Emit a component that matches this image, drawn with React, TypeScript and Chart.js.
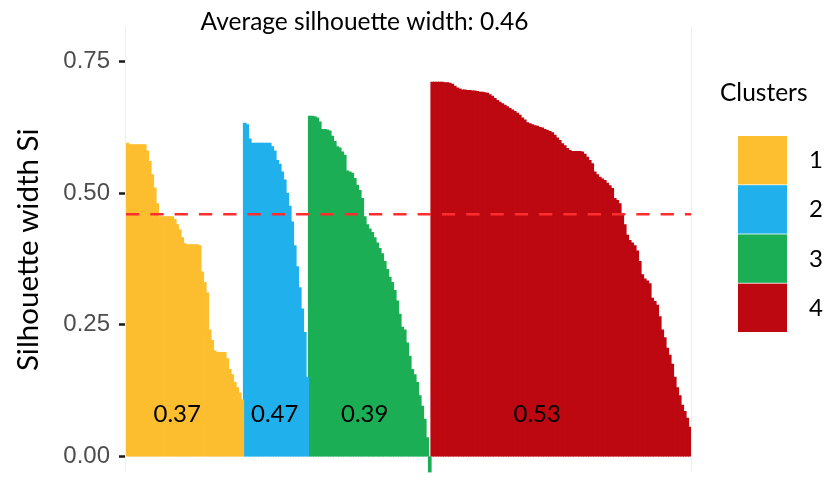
import React, { useEffect, useRef } from "react";
import { Chart, registerables } from "chart.js";

Chart.register(...registerables);

// ---- data ----
const TITLE = "Average silhouette width: 0.46";
const Y_TITLE = "Silhouette width Si";
const LEGEND_TITLE = "Clusters";
const CLUSTERS = ["1", "2", "3", "4"];
const CLUSTER_COLORS = ["#FDBE2F", "#20B1EC", "#1CAE55", "#BD0812"];
const CLUSTER_AVG = ["0.37", "0.47", "0.39", "0.53"];
const AVG_WIDTH = 0.46;
const Y_TICKS = [0, 0.25, 0.5, 0.75];

// silhouette widths, sorted within each cluster
const SIL_1 = [
  0.595, 0.592, 0.592, 0.592, 0.592, 0.592, 0.592, 0.592, 0.58, 0.56,
  0.535, 0.51, 0.48, 0.455, 0.455, 0.455, 0.455, 0.455, 0.455, 0.45,
  0.44, 0.43, 0.415, 0.404, 0.402, 0.402, 0.402, 0.402, 0.402, 0.4,
  0.35, 0.33, 0.31, 0.24, 0.22, 0.2, 0.197, 0.197, 0.197, 0.197,
  0.185, 0.165, 0.155, 0.14, 0.13, 0.12, 0.107,
];
const SIL_2 = [
  0.633, 0.63, 0.603, 0.595, 0.595, 0.595, 0.595, 0.595, 0.595, 0.595,
  0.595, 0.588, 0.58, 0.562, 0.555, 0.54, 0.525, 0.5, 0.475, 0.445,
  0.4, 0.36, 0.32, 0.28, 0.235, 0.15,
];
const SIL_3 = [
  0.646, 0.646, 0.645, 0.643, 0.635, 0.621, 0.621, 0.62, 0.618, 0.608,
  0.598, 0.588, 0.586, 0.578, 0.572, 0.542, 0.54, 0.538, 0.528, 0.515,
  0.505, 0.49, 0.455, 0.44, 0.432, 0.425, 0.415, 0.405, 0.395, 0.385,
  0.37, 0.355, 0.34, 0.33, 0.315, 0.295, 0.27, 0.245, 0.24, 0.215,
  0.19, 0.165, 0.155, 0.14, 0.115, 0.095, 0.07, 0.035, -0.03,
];
const SIL_4 = [
  0.711, 0.711, 0.711, 0.711, 0.711, 0.71, 0.71, 0.709, 0.707, 0.703,
  0.7, 0.698, 0.696, 0.696, 0.695, 0.695, 0.694, 0.694, 0.693, 0.692,
  0.692, 0.691, 0.69, 0.687, 0.684, 0.68, 0.676, 0.673, 0.67, 0.667,
  0.664, 0.661, 0.658, 0.655, 0.652, 0.648, 0.643, 0.639, 0.634, 0.632,
  0.63, 0.628, 0.627, 0.625, 0.624, 0.621, 0.619, 0.617, 0.615, 0.61,
  0.605, 0.6, 0.594, 0.59, 0.585, 0.581, 0.579, 0.579, 0.579, 0.579,
  0.578, 0.574, 0.568, 0.562, 0.556, 0.54, 0.535, 0.53, 0.527, 0.524,
  0.519, 0.514, 0.509, 0.49, 0.486, 0.48, 0.46, 0.44, 0.42, 0.41,
  0.405, 0.4, 0.39, 0.37, 0.345, 0.337, 0.333, 0.328, 0.3, 0.294,
  0.287, 0.265, 0.24, 0.225, 0.205, 0.192, 0.175, 0.15, 0.13, 0.115,
  0.097, 0.085, 0.072, 0.055,
];
const SIL = [SIL_1, SIL_2, SIL_3, SIL_4];

// observation (0-based) under which each cluster's average is written, and its height
const AVG_LABEL_OBS = [20, 59, 95, 164];
const AVG_LABEL_Y = 0.08;

const LATO = "Lato, 'Open Sans', sans-serif";

const decor = {
  id: "silDecor",
  beforeDatasetsDraw(chart: any) {
    const { ctx, chartArea } = chart;
    ctx.save();
    ctx.strokeStyle = "#efefef";
    ctx.lineWidth = 1;
    ctx.beginPath();
    ctx.moveTo(chartArea.left - 0.5, chartArea.top);
    ctx.lineTo(chartArea.left - 0.5, chartArea.bottom);
    ctx.moveTo(chartArea.right + 0.5, chartArea.top);
    ctx.lineTo(chartArea.right + 0.5, chartArea.bottom);
    ctx.stroke();
    ctx.restore();
  },
  afterDatasetsDraw(chart: any) {
    const { ctx, chartArea, scales } = chart;
    const x = scales.x;
    const y = scales.y;
    ctx.save();
    // average line
    const yAvg = y.getPixelForValue(AVG_WIDTH);
    ctx.strokeStyle = "#FF2E2E";
    ctx.lineWidth = 2.5;
    ctx.setLineDash([13.3, 11]);
    ctx.beginPath();
    ctx.moveTo(chartArea.left, yAvg);
    ctx.lineTo(chartArea.right, yAvg);
    ctx.stroke();
    ctx.setLineDash([]);
    // cluster averages
    ctx.fillStyle = "#000";
    ctx.font = `24px ${LATO}`;
    ctx.textAlign = "center";
    ctx.textBaseline = "middle";
    CLUSTER_AVG.forEach((t, k) => {
      ctx.fillText(t, x.getPixelForValue(AVG_LABEL_OBS[k]), y.getPixelForValue(AVG_LABEL_Y));
    });
    ctx.restore();
  },
  afterDraw(chart: any) {
    const { ctx, chartArea } = chart;
    ctx.save();
    ctx.fillStyle = "#000";
    ctx.textBaseline = "middle";
    // title
    ctx.font = `24.5px ${LATO}`;
    ctx.textAlign = "center";
    ctx.fillText(TITLE, 364.5, 22);
    // legend
    const lx = chartArea.right + 29;
    ctx.textAlign = "left";
    ctx.fillText(LEGEND_TITLE, lx, 93);
    chart.data.datasets.forEach((ds: any, k: number) => {
      const top = 136 + k * 49.2;
      ctx.fillStyle = ds.backgroundColor;
      ctx.fillRect(lx + 18, top, 49, 48.4);
      ctx.fillStyle = "#000";
      ctx.font = `24px ${LATO}`;
      ctx.fillText(ds.label, lx + 89, top + 24.5);
    });
    ctx.restore();
  },
};

export default function App() {
  const ref = useRef<HTMLCanvasElement | null>(null);

  useEffect(() => {
    if (!ref.current) return;
    const all: number[] = ([] as number[]).concat(...SIL);
    const labels = all.map((_, i) => String(i + 1));
    let start = 0;
    const datasets = SIL.map((vals, k) => {
      const data = all.map((_, i) =>
        i >= start && i < start + vals.length ? vals[i - start] : null
      );
      start += vals.length;
      return {
        label: CLUSTERS[k],
        data,
        backgroundColor: CLUSTER_COLORS[k],
        borderColor: CLUSTER_COLORS[k],
        borderWidth: 0,
        barPercentage: 1,
        categoryPercentage: 1,
        inflateAmount: 0.6,
        grouped: false,
      };
    });

    const chart = new Chart(ref.current, {
      type: "bar",
      data: { labels, datasets } as any,
      options: {
        animation: false,
        responsive: false,
        layout: { padding: { top: 27, right: 136, bottom: 0, left: 0 } },
        plugins: {
          legend: { display: false },
          tooltip: { enabled: false },
          title: { display: false },
        },
        scales: {
          x: { display: false, offset: true },
          y: {
            min: -0.031,
            max: 0.816,
            afterBuildTicks: (s: any) => {
              s.ticks = Y_TICKS.map((v) => ({ value: v }));
            },
            afterFit: (s: any) => {
              s.width = 126;
            },
            ticks: {
              color: "#4d4d4d",
              font: { family: "'Liberation Sans', Arial, sans-serif", size: 24 },
              padding: 9,
              callback: (v: any) => Number(v).toFixed(2),
            },
            grid: {
              drawOnChartArea: false,
              drawTicks: true,
              tickLength: 7,
              tickWidth: 2.5,
              tickColor: "#1a1a1a",
            },
            border: { display: false },
            title: {
              display: true,
              text: Y_TITLE,
              color: "#000",
              font: { family: LATO, size: 29.5, weight: "normal" },
              padding: { top: 11, bottom: 0 },
            },
          },
        },
      } as any,
      plugins: [decor],
    });
    return () => chart.destroy();
  }, []);

  return (
    <div style={{ position: "absolute", left: 0, top: 0, width: 827, height: 496, background: "#fff" }}>
      <canvas ref={ref} width={827} height={496} />
    </div>
  );
}
